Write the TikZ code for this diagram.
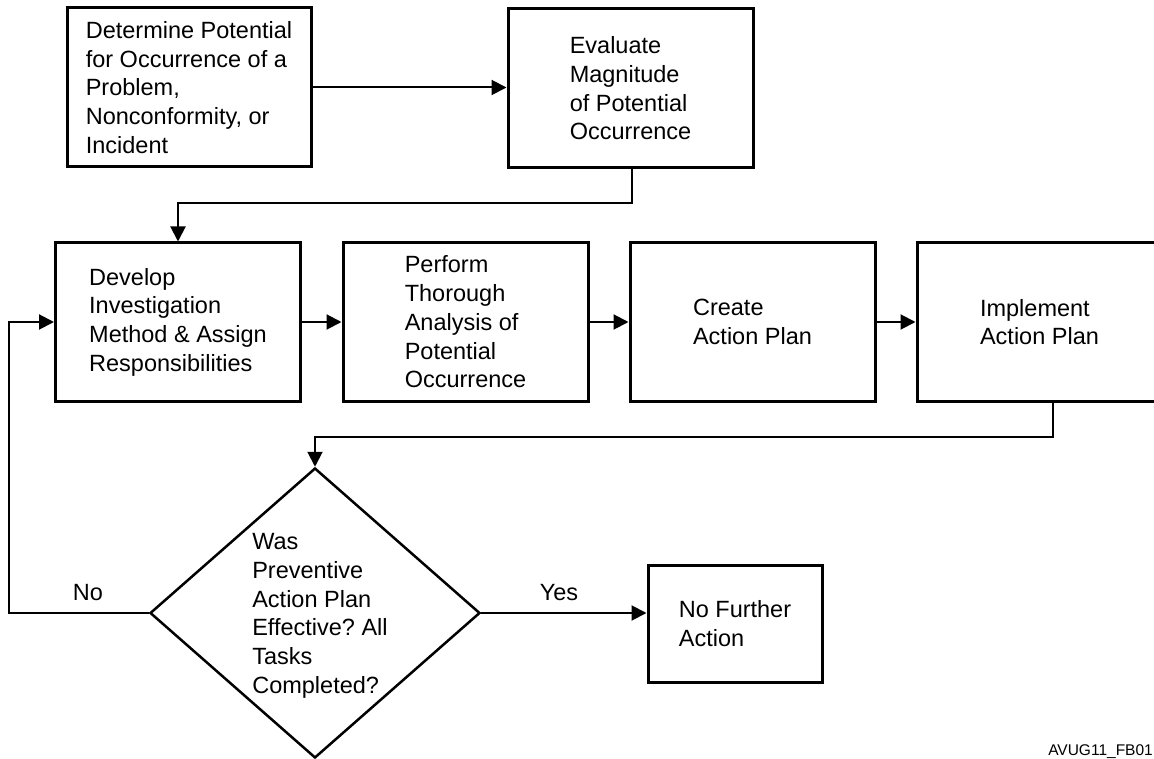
\documentclass[tikz,border=0pt]{standalone}
\usepackage{fontspec}
\setmainfont{Liberation Sans}
\usetikzlibrary{arrows.meta,shapes.geometric}
\frenchspacing
\begin{document}
\begin{tikzpicture}[x=1pt,y=-1pt,
  box/.style={draw, line width=3pt, rectangle, align=left, inner sep=0pt,
    font=\fontsize{23.5}{28.7}\selectfont},
  rowbox/.style={box, minimum width=245pt, minimum height=158pt},
  conn/.style={line width=2pt, -{Triangle[length=15pt,width=15pt]}},
  lbl/.style={font=\fontsize{23.5}{28.7}\selectfont, inner sep=0pt}]
\useasboundingbox (0,0) rectangle (1154,759);
\fill[white] (0,0) rectangle (1154,759);
\clip (0,0) rectangle (1154,759);
% top row
\node[box, minimum width=244pt, minimum height=159pt] (b1) at (189,87.5)
  {Determine Potential\\for Occurrence of a\\Problem,\\Nonconformity, or\\Incident};
\node[box, minimum width=245pt, minimum height=159pt] (b2) at (630.5,88.5)
  {Evaluate\\Magnitude\\of Potential\\Occurrence};
% middle row
\node[rowbox] (bA) at (178,322) {Develop\\Investigation\\Method \& Assign\\Responsibilities};
\node[rowbox] (bB) at (465.5,322) {Perform\\Thorough\\Analysis of\\Potential\\Occurrence};
\node[rowbox] (bC) at (752.5,322) {Create\\Action Plan};
\node[rowbox] (bD) at (1039.5,322) {Implement\\Action Plan};
% decision
\node[draw, diamond, line width=2.5pt, minimum width=330pt, minimum height=290pt,
  inner sep=0pt] (dia) at (315,613) {};
\node[lbl, align=left] (diat) at (320,616)
  {Was\\Preventive\\Action Plan\\Effective? All\\Tasks\\Completed?};
\node[box, minimum width=174pt, minimum height=117pt] (nfa) at (735,623.5)
  {No Further\\Action};
% connectors
\draw[conn] (b1.east) -- (b1.east -| b2.west);
\coordinate (j1) at (632,203);
\draw[conn] (b2.south -| j1) -- (j1) -- (j1 -| bA.north) -- (bA.north);
\draw[conn] (bA.east) -- (bB.west);
\draw[conn] (bB.east) -- (bC.west);
\draw[conn] (bC.east) -- (bD.west);
\coordinate (j2) at (1053,437);
\draw[conn] (bD.south -| j2) -- (j2) -- (j2 -| dia.north) -- (dia.north);
\coordinate (j3) at (9,322);
\draw[conn] (dia.west) -- (dia.west -| j3) -- (j3 |- bA.west) -- (bA.west);
\draw[conn] (dia.east) -- (dia.east -| nfa.west);
% labels
\node[lbl] (no) at (88,593) {No};
\node[lbl] (yes) at (559,593) {Yes};
\node[inner sep=0pt, anchor=base east, font=\fontsize{15.5}{19}\selectfont] (code) at (1153,755) {AVUG11\_FB01};
\end{tikzpicture}
\end{document}
